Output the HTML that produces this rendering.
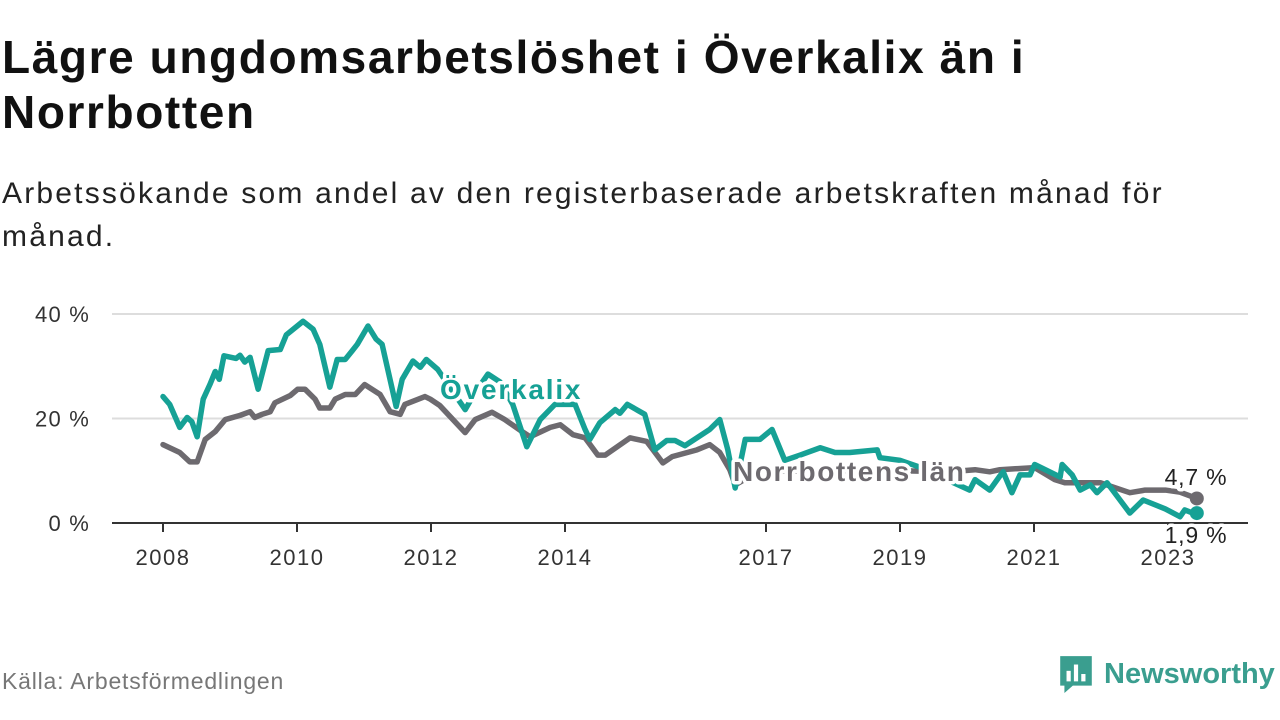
<!DOCTYPE html>
<html><head><meta charset="utf-8"><style>
body{margin:0;width:1280px;height:720px;background:#fff;font-family:"Liberation Sans",sans-serif;overflow:hidden;position:relative}
h1{position:absolute;left:2px;top:30px;margin:0;font-size:46px;line-height:55px;font-weight:bold;color:#111;letter-spacing:1.6px;white-space:nowrap}
.sub{position:absolute;left:2px;top:172px;margin:0;font-size:30px;line-height:43px;color:#222;letter-spacing:2.2px;white-space:nowrap}
.src{position:absolute;left:2px;top:668px;font-size:23px;color:#777;letter-spacing:0.8px}
.logo{position:absolute;left:1058px;top:654px;display:flex;align-items:center;color:#3a9e8f;font-weight:bold;font-size:29px}
</style></head><body>
<h1>Lägre ungdomsarbetslöshet i Överkalix än i<br>Norrbotten</h1>
<p class="sub">Arbetssökande som andel av den registerbaserade arbetskraften månad för<br>månad.</p>
<svg id="chart" width="1280" height="720" style="position:absolute;left:0;top:0"></svg>
<div class="src">Källa: Arbetsförmedlingen</div>
<div class="logo"><svg width="36" height="40" viewBox="0 0 34 38"><path d="M2 2h30v28H14l-8 7v-7H2z" fill="#3a9e8f"/><rect x="8" y="16" width="4" height="10" fill="#fff"/><rect x="15" y="10" width="4" height="16" fill="#fff"/><rect x="22" y="19" width="4" height="7" fill="#fff"/></svg><span style="margin-left:10px">Newsworthy</span></div>
<script>
const yTicks=[0,20,40];
const xTickYears=[2008,2010,2012,2014,2017,2019,2021,2023];
const tealYears=[2008.00,2008.10,2008.25,2008.36,2008.43,2008.51,2008.60,2008.70,2008.78,2008.84,2008.91,2009.09,2009.15,2009.22,2009.30,2009.42,2009.57,2009.75,2009.84,2010.09,2010.24,2010.34,2010.49,2010.60,2010.72,2010.82,2010.90,2011.06,2011.18,2011.27,2011.48,2011.57,2011.73,2011.84,2011.93,2012.10,2012.28,2012.51,2012.66,2012.85,2013.03,2013.22,2013.43,2013.63,2013.85,2014.15,2014.30,2014.37,2014.52,2014.75,2014.82,2014.93,2015.19,2015.34,2015.52,2015.64,2015.79,2016.16,2016.31,2016.43,2016.54,2016.69,2016.91,2017.09,2017.28,2017.51,2017.81,2018.03,2018.25,2018.66,2018.70,2019.00,2019.45,2019.75,2020.04,2020.12,2020.34,2020.49,2020.54,2020.67,2020.79,2020.94,2021.01,2021.39,2021.42,2021.57,2021.69,2021.84,2021.94,2022.09,2022.43,2022.63,2022.96,2023.18,2023.25,2023.37,2023.43];
const tealVals=[24.2,22.7,18.3,20.2,19.4,16.5,23.7,26.5,29,27.5,32,31.5,32.1,30.8,31.7,25.6,33,33.2,36,38.6,37.1,34.2,26,31.3,31.3,32.9,34.2,37.7,35.2,34.2,22.3,27.5,31,29.8,31.3,29.4,26,21.7,25,28.5,27,22.7,14.6,19.8,22.7,22.7,17.9,16,19.2,21.7,21,22.7,20.8,14,15.8,15.8,14.8,17.9,19.8,14,6.7,16,16,17.9,12,13,14.4,13.5,13.5,14,12.5,12,10,8,6.3,8.3,6.3,9,9.8,5.8,9.2,9.2,11.2,8.8,11.2,9.2,6.3,7.3,5.8,7.7,1.9,4.4,2.7,1.2,2.5,1.9,1.9];
const grayYears=[2008.00,2008.25,2008.40,2008.51,2008.63,2008.78,2008.93,2009.15,2009.30,2009.37,2009.48,2009.60,2009.67,2009.90,2010.01,2010.12,2010.27,2010.34,2010.49,2010.57,2010.72,2010.87,2011.01,2011.24,2011.39,2011.54,2011.61,2011.91,2011.99,2012.13,2012.51,2012.66,2012.91,2013.10,2013.36,2013.48,2013.78,2013.93,2014.12,2014.30,2014.49,2014.60,2014.97,2015.22,2015.39,2015.46,2015.60,2015.97,2016.16,2016.31,2016.46,2016.54,2016.91,2017.51,2018.25,2019.00,2019.75,2020.12,2020.34,2020.49,2021.01,2021.31,2021.46,2021.99,2022.43,2022.66,2022.96,2023.18,2023.43];
const grayVals=[15,13.5,11.7,11.7,16,17.5,19.8,20.6,21.3,20.2,20.8,21.3,23,24.4,25.6,25.6,23.7,22,22,23.7,24.6,24.6,26.5,24.6,21.3,20.8,22.7,24.2,23.7,22.5,17.3,19.8,21.2,19.8,17.5,16.5,18.3,18.8,16.9,16.3,13,13,16.3,15.6,12.7,11.5,12.7,14,15,13.5,10.2,7.3,10,10,10,10,9.8,10.2,9.8,10.2,10.6,8.3,7.7,7.7,5.8,6.3,6.3,5.9,4.7];
const NS='http://www.w3.org/2000/svg';
const svg=document.getElementById('chart');
const X=y=>163+(y-2008)*67, Y=v=>523-v*5.225;
function mk(t,a,p){const e=document.createElementNS(NS,t);for(const k in a)e.setAttribute(k,a[k]);(p||svg).appendChild(e);return e;}
yTicks.forEach(t=>{
  if(t>0){const g=mk('line',{x1:112,x2:1248,y1:Y(t),y2:Y(t),stroke:'#ddd','stroke-width':2});
  
  }
  const l=mk('text',{x:90,y:Y(t)+8,'text-anchor':'end','font-size':22,'letter-spacing':1.2,fill:'#333','font-family':'Liberation Sans'});
  l.textContent=t+' %';
  
  
});
const ax=mk('line',{x1:112,x2:1248,y1:523,y2:523,stroke:'#333','stroke-width':2});


xTickYears.forEach(yr=>{
  const tk=mk('line',{x1:X(yr),x2:X(yr),y1:523,y2:532,stroke:'#333','stroke-width':2});
  
  
  const l=mk('text',{x:X(yr),y:565,'text-anchor':'middle','font-size':22,'letter-spacing':1.5,fill:'#333','font-family':'Liberation Sans'});
  l.textContent=yr;
  
  
});
function line(xs,vs,c,name){
  const p=mk('polyline',{points:xs.map((x,i)=>X(x)+','+Y(vs[i])).join(' '),fill:'none',stroke:c,'stroke-width':5.5,'stroke-linejoin':'round','stroke-linecap':'round'});
  
  
}
line(grayYears,grayVals,'#6d6a6f','norrbotten-line');
line(tealYears,tealVals,'#16a195','overkalix-line');
const gl=grayYears.length-1,tl=tealYears.length-1;
const d1=mk('circle',{cx:X(grayYears[gl]),cy:Y(grayVals[gl]),r:7,fill:'#6d6a6f'});


const d2=mk('circle',{cx:X(tealYears[tl]),cy:Y(tealVals[tl]),r:7,fill:'#16a195'});


function lab(txt,x,y,c,size,w,anchor,ls,name){
  const t=mk('text',{x:x,y:y,fill:c,'font-size':size,'font-weight':w,'text-anchor':anchor,'letter-spacing':ls,stroke:'#fff','stroke-width':7,'paint-order':'stroke','stroke-linejoin':'round','font-family':'Liberation Sans'});
  t.textContent=txt;
  
  
}
lab('Överkalix',440,399,'#16a195',28,'bold','start',1.8,'overkalix-label');
lab('Norrbottens län',733,481,'#6d6a6f',28,'bold','start',1.6,'norrbotten-label');
lab('4,7 %',1196,485,'#222',23,'normal','middle',0.8,'norrbotten-value-label');
lab('1,9 %',1196,543,'#222',23,'normal','middle',0.8,'overkalix-value-label');
</script>
</body></html>
